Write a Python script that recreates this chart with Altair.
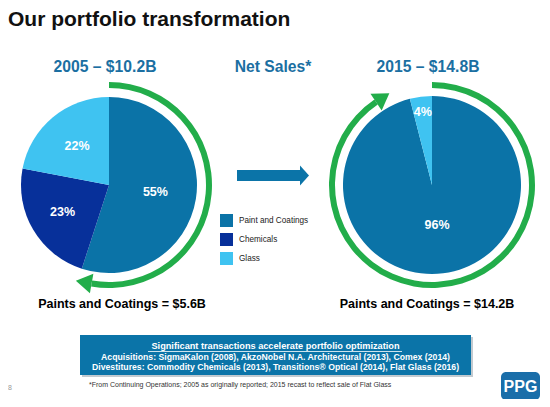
import math
import altair as alt
import pandas as pd

# ---------------- data ----------------
segments = ["Paint and Coatings", "Chemicals", "Glass"]
share_2005 = [55, 23, 22]
share_2015 = [96, 0, 4]

title_text = "Our portfolio transformation"
pie_titles = ["2005 \u2013 $10.2B", "2015 \u2013 $14.8B"]
center_title = "Net Sales*"
pc_totals = ["Paints and Coatings = $5.6B", "Paints and Coatings = $14.2B"]
box_heading = "Significant transactions accelerate portfolio optimization"
box_lines = [
    "Acquisitions: SigmaKalon (2008), AkzoNobel N.A. Architectural (2013), Comex (2014)",
    "Divestitures: Commodity Chemicals (2013), Transitions\u00ae Optical (2014), Flat Glass (2016)",
]
footnote = "*From Continuing Operations; 2005 as originally reported; 2015 recast to reflect sale of Flat Glass"
page_number = "8"
logo_text = "PPG"

# ---------------- styles ----------------
F = "Liberation Sans"
seg_colors = ["#0b73a7", "#07309a", "#3fc3f1"]
TITLE_BLUE = "#1b6fa2"
GREEN = "#22ad4a"
BOX_BLUE = "#0b74a8"
OFF = 8  # page margin

# label radii (styling of pie labels)
label_r_2005 = {"Paint and Coatings": 47, "Chemicals": 54, "Glass": 50}
label_r_2015 = {"Paint and Coatings": 40, "Glass": 74}

one = pd.DataFrame({"k": [0]})


def pie_df(shares, radii):
    rows = []
    acc = 0.0
    for seg, v in zip(segments, shares):
        if v <= 0:
            continue
        t0 = acc / 100 * 2 * math.pi
        acc += v
        t1 = acc / 100 * 2 * math.pi
        rows.append(dict(segment=seg, share=v, t0=t0, t1=t1, tm=(t0 + t1) / 2,
                         label=f"{v}%", lr=radii[seg]))
    return pd.DataFrame(rows)


color_scale = alt.Scale(domain=segments, range=seg_colors)
legend = alt.Legend(title=None, orient="none", legendX=212, legendY=206,
                    symbolType="square", symbolSize=169, symbolStrokeWidth=0,
                    labelFont=F, labelFontSize=8.2, labelColor="#222",
                    rowPadding=6, labelOffset=6, padding=0)


def pie(shares, radii, cx, cy, r, show_legend):
    df = pie_df(shares, radii)
    arcs = alt.Chart(df).mark_arc(x=cx - OFF, y=cy - OFF, radius=r).encode(
        theta=alt.Theta("t0:Q", scale=None),
        theta2=alt.Theta2("t1:Q"),
        color=alt.Color("segment:N", scale=color_scale,
                        legend=legend if show_legend else None),
    )
    labels = alt.Chart(df).mark_text(x=cx - OFF, y=cy - OFF, font=F, fontSize=12.5,
                                     fontWeight="bold", color="white").encode(
        theta=alt.Theta("tm:Q", scale=None),
        radius=alt.Radius("lr:Q", scale=None),
        text="label:N",
    )
    return [arcs, labels]


def txt(s, x, y, size, color="#000", weight="bold", align="center", baseline="middle"):
    return alt.Chart(one).mark_text(text=s, x=x - OFF, y=y - OFF, fontSize=size, color=color,
                                    fontWeight=weight, align=align, baseline=baseline, font=F)


def ring(cx, cy, end_deg):
    return alt.Chart(one).mark_arc(x=cx - OFF, y=cy - OFF, radius=103, radius2=97,
                                   color=GREEN).encode(
        theta=alt.value(0), theta2=alt.value(math.radians(end_deg)))


HEAD = "M0,-1.6 L1,0 L-1,0 Z"


def head(cx, cy, at_deg):
    a = math.radians(at_deg)
    px = cx + 100 * math.sin(a)
    py = cy - 100 * math.cos(a)
    return alt.Chart(one).mark_point(shape=HEAD, size=400, filled=True, opacity=1,
                                     color=GREEN, strokeWidth=0,
                                     angle=(at_deg + 90) % 360,
                                     x=px - OFF, y=py - OFF)


def rect(x1, y1, x2, y2, color, **kw):
    return alt.Chart(one).mark_rect(color=color, **kw).encode(
        x=alt.value(x1 - OFF), x2=alt.value(x2 - OFF),
        y=alt.value(y1 - OFF), y2=alt.value(y2 - OFF))


layers = []
# title
layers.append(txt(title_text, 8, 26, 21, color="#111", align="left", baseline="alphabetic"))
layers.append(txt(pie_titles[0], 105, 67, 15.7, color=TITLE_BLUE))
layers.append(txt(center_title, 273, 67, 15.7, color=TITLE_BLUE))
layers.append(txt(pie_titles[1], 428, 67, 15.7, color=TITLE_BLUE))

# green rings
layers.append(ring(109, 185, 190))
layers.append(head(109, 185, 190))
layers.append(ring(432, 185, 326))
layers.append(head(432, 185, 326))

# pies
layers += pie(share_2005, label_r_2005, 109, 185, 88, True)
layers += pie(share_2015, label_r_2015, 432, 185, 89, False)

# centre arrow
layers.append(rect(237, 170, 301, 181, BOX_BLUE))
layers.append(alt.Chart(one).mark_point(shape="M-0.45,-1 L0.45,0 L-0.45,1 Z", size=400,
                                        filled=True, opacity=1, color=BOX_BLUE, strokeWidth=0,
                                        x=304.5 - OFF, y=175.5 - OFF))

# totals
layers.append(txt(pc_totals[0], 122, 304, 12.5))
layers.append(txt(pc_totals[1], 427, 304, 12.5))

# box
layers.append(rect(82, 337, 473, 377, "#9aa7b0", opacity=0.6))
layers.append(rect(80, 335, 471, 375, BOX_BLUE))
layers.append(txt(box_heading, 275.5, 346, 9.2, color="white"))
layers.append(alt.Chart(one).mark_rule(color="white", strokeWidth=0.8).encode(
    x=alt.value(148 - OFF), x2=alt.value(402 - OFF), y=alt.value(351.5 - OFF)))
layers.append(txt(box_lines[0], 275.5, 356.8, 8.7, color="white"))
layers.append(txt(box_lines[1], 275.5, 367.3, 8.7, color="white"))
layers.append(txt(footnote, 89, 385, 7.0, color="#333", weight="normal", align="left"))
layers.append(txt(page_number, 10, 388, 7, color="#999", weight="normal"))

# logo
layers.append(rect(501, 372, 540, 400, "#1a6ea9", cornerRadius=5))
layers.append(txt(logo_text, 520.5, 387, 16, color="white"))

chart = alt.layer(*layers).properties(
    width=534, height=391, padding=0, autosize=alt.AutoSizeParams(type="none"),
    background="white",
).configure_view(stroke=None)

chart.save("out.html", embed_options={"renderer": "svg", "actions": False})
